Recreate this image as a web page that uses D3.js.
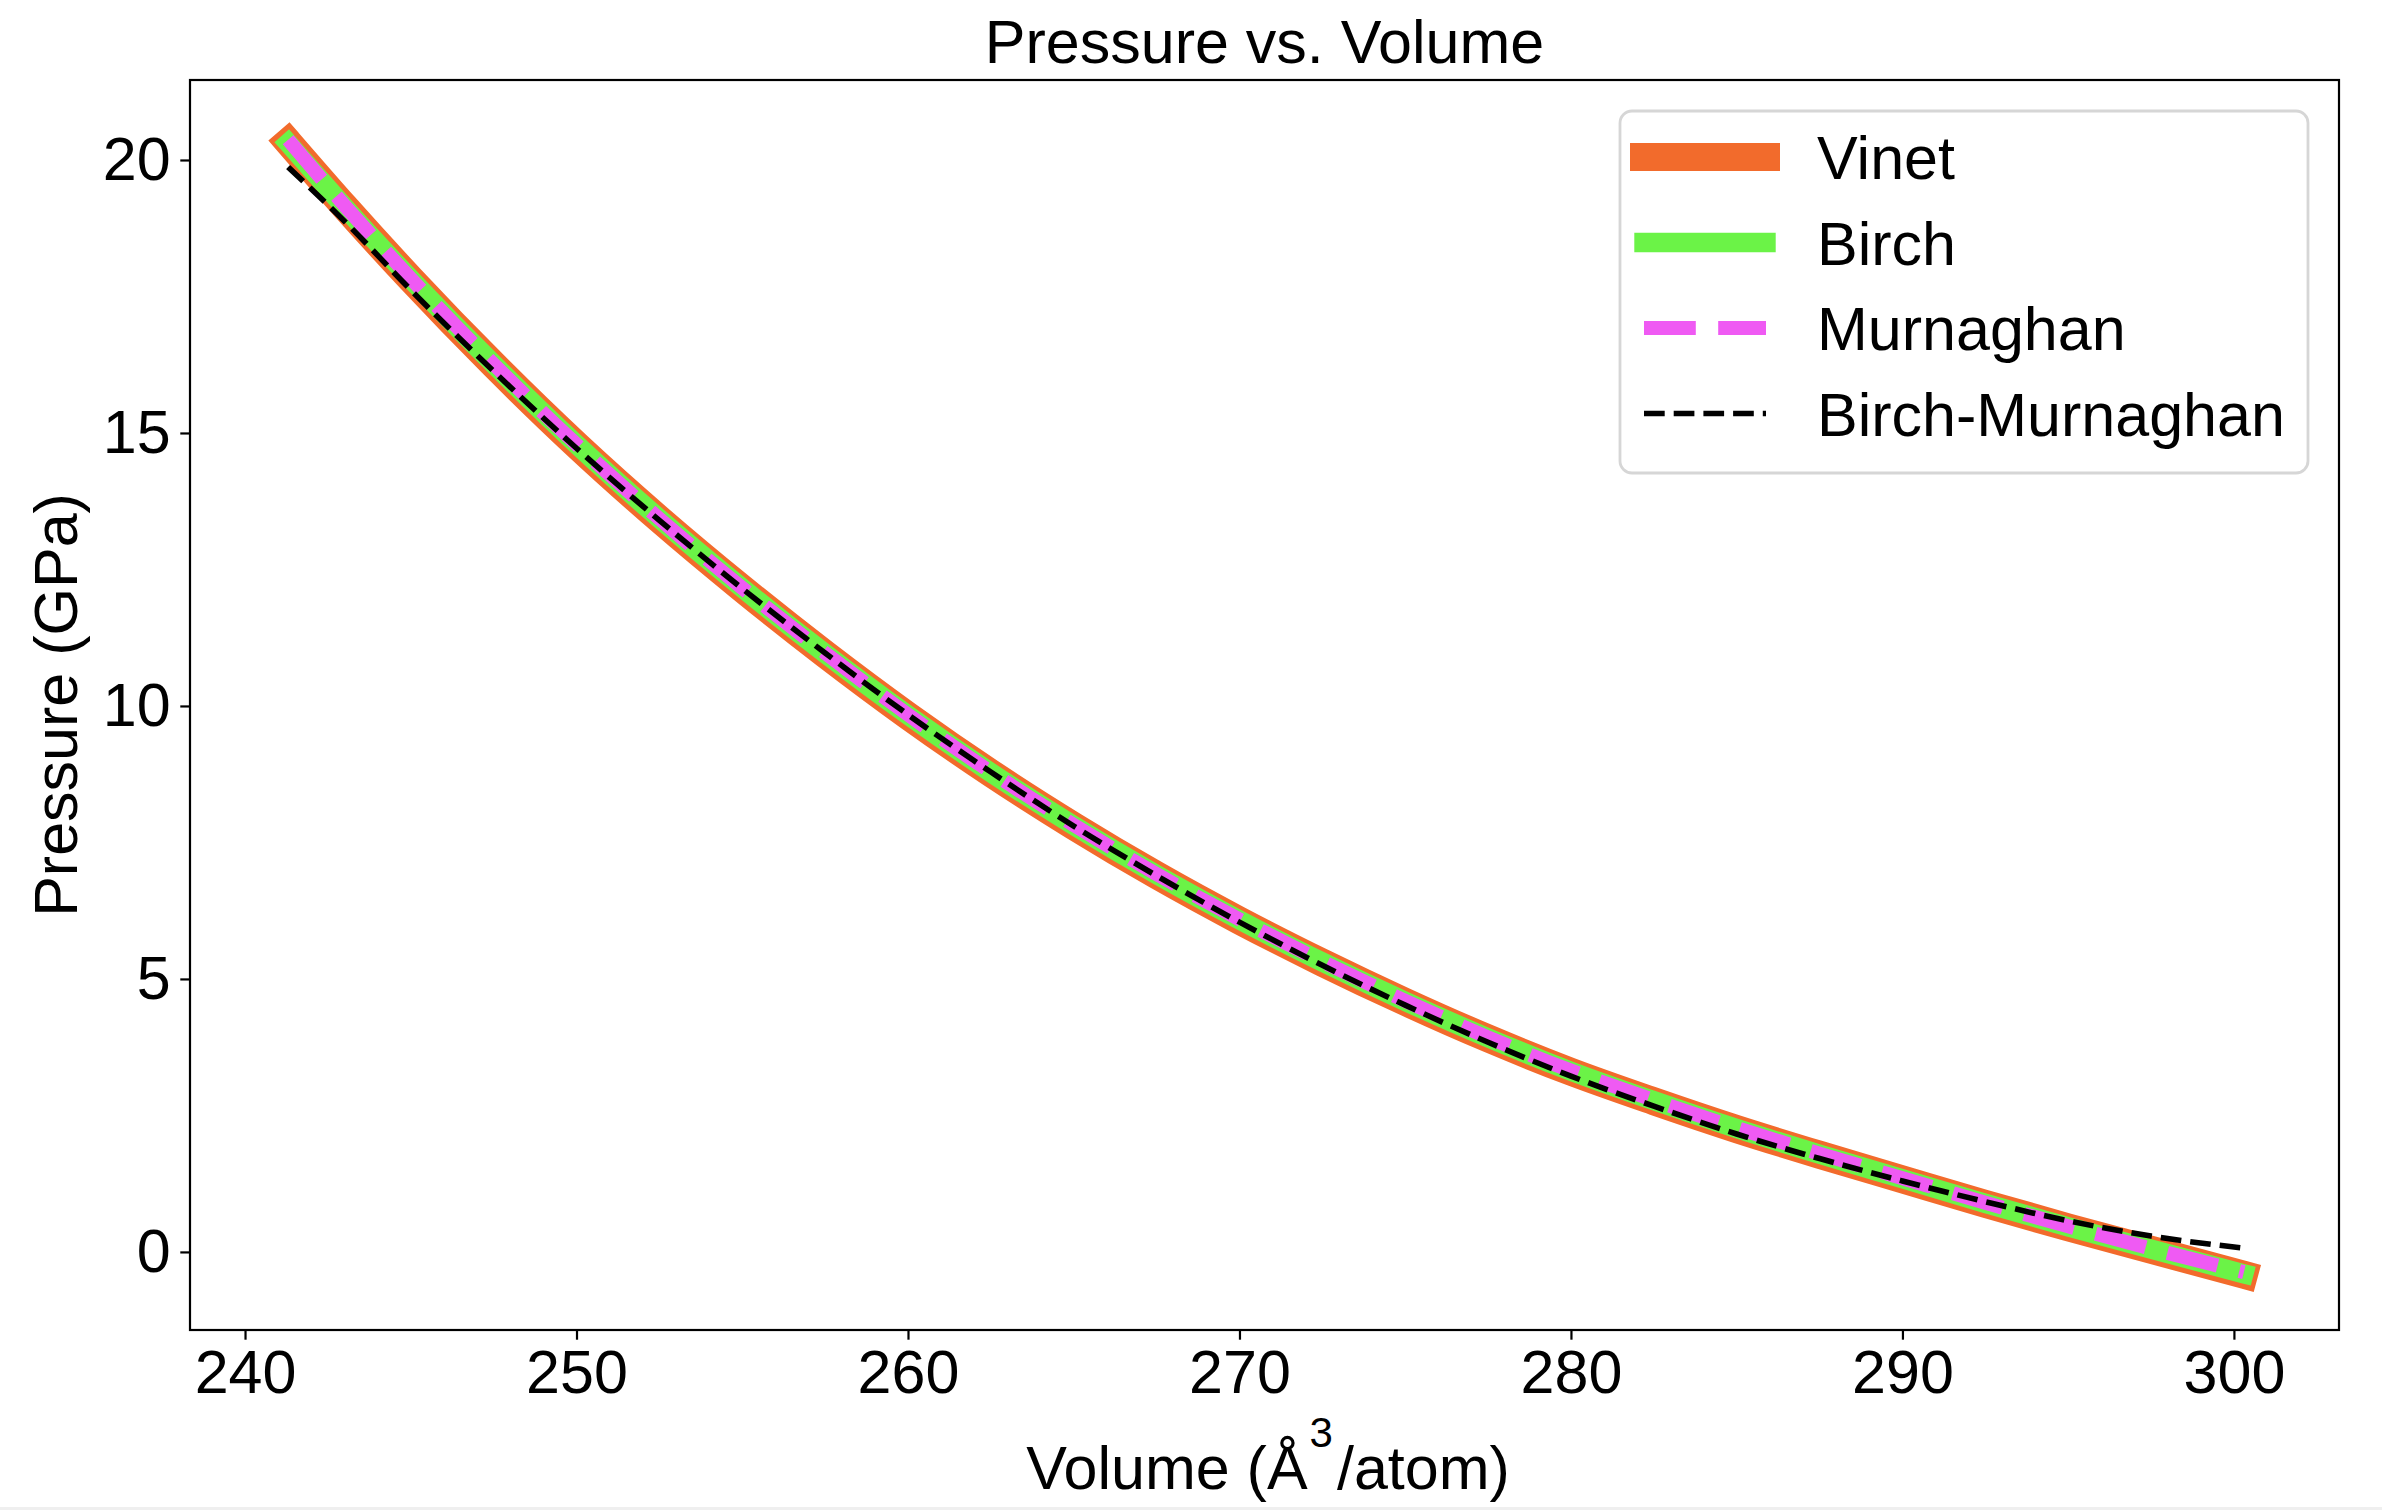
<!DOCTYPE html>
<html>
<head>
<meta charset="utf-8">
<script src="https://cdn.jsdelivr.net/npm/d3@7"></script>
<style>
  body { margin: 0; background: #fff; overflow: hidden; }
  text { font-family: "Liberation Sans", Arial, sans-serif; fill: #000; }
</style>
</head>
<body>
<div id="chart"></div>
<script>
// values
const volume = [241.3, 243, 245, 247.5, 250, 252.5, 255, 257.5, 260, 262.5, 265, 267.5,
    270, 272.5, 275, 277.5, 280, 282.5, 285, 287.5, 290, 292.5, 295, 297.5, 300.3];
const vinetP = [20.33, 19.15, 17.82, 16.25, 14.78, 13.42, 12.15, 10.95, 9.82, 8.77, 7.80, 6.90,
    6.07, 5.30, 4.58, 3.91, 3.30, 2.76, 2.25, 1.78, 1.33, 0.88, 0.45, 0.04, -0.42];
const birchP = [20.31, 19.14, 17.82, 16.26, 14.79, 13.43, 12.16, 10.96, 9.83, 8.78, 7.81, 6.91,
    6.08, 5.31, 4.59, 3.92, 3.31, 2.77, 2.26, 1.79, 1.34, 0.89, 0.46, 0.05, -0.40];
const murnaghanP = [20.37, 19.17, 17.83, 16.26, 14.79, 13.43, 12.16, 10.97, 9.84, 8.79, 7.82, 6.92,
    6.09, 5.32, 4.60, 3.93, 3.32, 2.78, 2.27, 1.80, 1.35, 0.90, 0.47, 0.06, -0.37];
const birchMurnaghanP = [19.87, 18.88, 17.62, 16.13, 14.72, 13.40, 12.15, 10.97, 9.84, 8.79, 7.80, 6.89,
    6.04, 5.25, 4.52, 3.84, 3.22, 2.67, 2.16, 1.71, 1.30, 0.92, 0.57, 0.29, 0.07];

const seriesNames = ['Vinet', 'Birch', 'Murnaghan', 'Birch-Murnaghan'];
const xTicks = [240, 250, 260, 270, 280, 290, 300];
const yTicks = [0, 5, 10, 15, 20];

const width = 2382, height = 1510;
const plot = { left: 190, right: 2339, top: 80, bottom: 1330 };
const fontSize = 61;

const styles = [
    { color: '#f26b2c', width: 28, dash: null, cap: 'square' },
    { color: '#6bf347', width: 19.4, dash: null, cap: 'square' },
    { color: '#ef5af3', width: 14, dash: '51.8 22.4', cap: 'butt' },
    { color: '#000000', width: 5.6, dash: '20.7 9', cap: 'butt' }
];
const seriesValues = [vinetP, birchP, murnaghanP, birchMurnaghanP];

const svg = d3.select('#chart')
    .append('svg')
    .attr('width', width)
    .attr('height', height);

svg.append('rect')
    .attr('x', 0).attr('y', height - 3)
    .attr('width', width).attr('height', 3)
    .attr('fill', '#efefef');

const x = d3.scaleLinear().domain([238.34, 303.17]).range([plot.left, plot.right]);
const y = d3.scaleLinear().domain([-1.43, 21.465]).range([plot.bottom, plot.top]);

const line = d3.line()
    .x(d => x(d[0]))
    .y(d => y(d[1]))
    .curve(d3.curveMonotoneX);

// curves, Vinet at the bottom
seriesValues.forEach((vals, i) => {
    const s = styles[i];
    svg.append('path')
        .datum(volume.map((v, j) => [v, vals[j]]))
        .attr('d', line)
        .attr('fill', 'none')
        .attr('stroke', s.color)
        .attr('stroke-width', s.width)
        .attr('stroke-linecap', s.cap)
        .attr('stroke-linejoin', 'round')
        .attr('stroke-dasharray', s.dash);
});

// axes
const xAxis = svg.append('g')
    .attr('transform', `translate(0,${plot.bottom})`)
    .call(d3.axisBottom(x).tickValues(xTicks).tickSize(9.7).tickPadding(9.7).tickSizeOuter(0));
const yAxis = svg.append('g')
    .attr('transform', `translate(${plot.left},0)`)
    .call(d3.axisLeft(y).tickValues(yTicks).tickSize(9.7).tickPadding(9.7).tickSizeOuter(0));

[xAxis, yAxis].forEach(g => {
    g.select('.domain').remove();
    g.selectAll('.tick line').attr('stroke', '#000').attr('stroke-width', 2.2);
    g.selectAll('.tick text')
        .style('font-family', '"Liberation Sans", Arial, sans-serif')
        .style('font-size', fontSize + 'px')
        .attr('fill', '#000');
});

svg.append('rect')
    .attr('x', plot.left).attr('y', plot.top)
    .attr('width', plot.right - plot.left).attr('height', plot.bottom - plot.top)
    .attr('fill', 'none')
    .attr('stroke', '#000')
    .attr('stroke-width', 2.2);

// title and labels
svg.append('text')
    .attr('x', (plot.left + plot.right) / 2).attr('y', 63)
    .attr('text-anchor', 'middle')
    .style('font-size', fontSize + 'px')
    .text('Pressure vs. Volume');

svg.append('text')
    .attr('transform', `translate(77,${(plot.top + plot.bottom) / 2}) rotate(-90)`)
    .attr('text-anchor', 'middle')
    .style('font-size', fontSize + 'px')
    .text('Pressure (GPa)');

const xLabel = svg.append('text')
    .attr('x', 1268).attr('y', 1489)
    .attr('text-anchor', 'middle')
    .style('font-size', fontSize + 'px');
xLabel.append('tspan').text('Volume (Å');
xLabel.append('tspan').attr('dy', -42).attr('dx', 2).style('font-size', '42px').text('3');
xLabel.append('tspan').attr('dy', 42).attr('dx', 4).text('/atom)');

// legend
const legend = svg.append('g');
legend.append('rect')
    .attr('x', 1620).attr('y', 111)
    .attr('width', 688).attr('height', 362)
    .attr('rx', 12)
    .attr('fill', '#fff').attr('fill-opacity', 0.8)
    .attr('stroke', '#d6d6d6').attr('stroke-width', 2.8);

seriesNames.forEach((name, i) => {
    const s = styles[i];
    const cy = 157 + i * 85.5;
    legend.append('line')
        .attr('x1', 1644).attr('x2', 1766)
        .attr('y1', cy).attr('y2', cy)
        .attr('stroke', s.color)
        .attr('stroke-width', s.width)
        .attr('stroke-linecap', s.cap)
        .attr('stroke-dasharray', s.dash);
    legend.append('text')
        .attr('x', 1817).attr('y', cy + 22)
        .style('font-size', fontSize + 'px')
        .text(name);
});
</script>
</body>
</html>
